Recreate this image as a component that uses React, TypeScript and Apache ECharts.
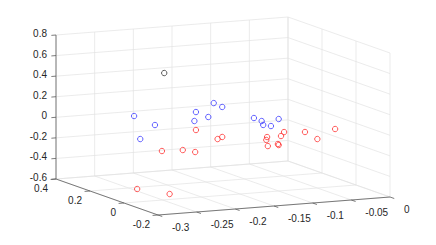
import React, { useEffect, useRef } from "react";
import * as echarts from "echarts";

// Axis limits and ticks
const xLim = [-0.3, 0];
const yLim = [-0.2, 0.4];
const zLim = [-0.6, 0.8];
const xTicks = [-0.3, -0.25, -0.2, -0.15, -0.1, -0.05, 0];
const yTicks = [-0.2, 0, 0.2, 0.4];
const zTicks = [-0.6, -0.4, -0.2, 0, 0.2, 0.4, 0.6, 0.8];

// Data (x, y, z) per group
const redX = [-0.163, -0.218, -0.213, -0.153, -0.157, -0.14, -0.105, -0.071, -0.114, -0.079, -0.067, -0.086, -0.093, -0.033, -0.05, -0.027, -0.261, -0.241];
const redY = [0.2, 0.15, 0.05, 0.25, 0.1, 0.15, 0.05, 0.2, 0.0, 0.1, 0.15, 0.05, 0.0, 0.15, 0.0, 0.0, 0.1, 0.0];
const redZ = [-0.087, -0.23, -0.165, -0.336, -0.12, -0.139, -0.13, -0.209, -0.155, -0.214, -0.26, -0.103, -0.031, -0.153, -0.124, -0.04, -0.545, -0.547];

const blueX = [-0.232, -0.227, -0.268, -0.185, -0.209, -0.151, -0.162, -0.202, -0.11, -0.122, -0.109, -0.121, -0.067];
const blueY = [0.25, 0.15, 0.05, 0.1, 0.0, 0.15, 0.05, -0.05, 0.1, 0.0, 0.05, -0.05, 0.15];
const blueZ = [0.06, 0.028, -0.026, 0.159, 0.144, 0.197, 0.224, 0.208, 0.057, 0.093, 0.018, 0.073, -0.007];

const blackX = [-0.226];
const blackY = [0.1];
const blackZ = [0.562];

// View (orthographic projection onto the page plane)
const ORIGIN = [56, 179]; // corner (xmin, ymax, zmin)
const BOX_X = [232, -18]; // full x range
const BOX_Y = [102, 36]; // from ymax to ymin
const BOX_Z = [0, -144]; // full z range

function proj(x: number, y: number, z: number): number[] {
  const a = (x - xLim[0]) / (xLim[1] - xLim[0]);
  const b = (yLim[1] - y) / (yLim[1] - yLim[0]);
  const c = (z - zLim[0]) / (zLim[1] - zLim[0]);
  return [
    ORIGIN[0] + a * BOX_X[0] + b * BOX_Y[0] + c * BOX_Z[0],
    ORIGIN[1] + a * BOX_X[1] + b * BOX_Y[1] + c * BOX_Z[1],
  ];
}

const GRID = "#e2e2e2";
const AXIS = "#5a5a5a";
const TEXT = "#262626";
const FONT = '10px "Liberation Sans", Arial, Helvetica, sans-serif';

function buildSegments() {
  const [x0, x1] = xLim;
  const [y0, y1] = yLim;
  const [z0, z1] = zLim;
  const s: number[][] = [];
  // kind 0 grid, 1 axis
  zTicks.forEach((z) => s.push([x0, y1, z, x1, y1, z, 0]));
  xTicks.forEach((x) => s.push([x, y1, z0, x, y1, z1, 0]));
  zTicks.forEach((z) => s.push([x1, y1, z, x1, y0, z, 0]));
  yTicks.forEach((y) => s.push([x1, y, z0, x1, y, z1, 0]));
  yTicks.forEach((y) => s.push([x0, y, z0, x1, y, z0, 0]));
  xTicks.forEach((x) => s.push([x, y0, z0, x, y1, z0, 0]));
  // axes
  s.push([x0, y1, z0, x0, y1, z1, 1]);
  s.push([x0, y1, z0, x0, y0, z0, 1]);
  s.push([x0, y0, z0, x1, y0, z0, 1]);
  // tick marks
  xTicks.forEach((x) => s.push([x, y0, z0, x, y0 - 0.025, z0, 1]));
  yTicks.forEach((y) => s.push([x0, y, z0, x0 - 0.007, y, z0, 1]));
  zTicks.forEach((z) => s.push([x0, y1, z, x0 - 0.006, y1, z, 1]));
  return s;
}

function buildLabels() {
  const l: number[][] = [];
  xTicks.forEach((x) => l.push([x, yLim[0], zLim[0], x, 0]));
  yTicks.forEach((y) => l.push([xLim[0], y, zLim[0], y, 1]));
  zTicks.forEach((z) => l.push([xLim[0], yLim[1], z, z, 2]));
  return l;
}

function zip(xs: number[], ys: number[], zs: number[]) {
  return xs.map((x, i) => [x, ys[i], zs[i]]);
}

export default function App() {
  const ref = useRef<HTMLDivElement>(null);
  useEffect(() => {
    if (!ref.current) return;
    const chart = echarts.init(ref.current, undefined, { renderer: "svg" });

    const pointSeries = (name: string, data: number[][], color: string) => ({
      type: "custom",
      name,
      coordinateSystem: "cartesian2d",
      silent: true,
      z: 5,
      data,
      renderItem: (_p: any, api: any) => {
        const c = api.coord(proj(api.value(0), api.value(1), api.value(2)));
        return {
          type: "circle",
          shape: { cx: c[0], cy: c[1], r: 2.7 },
          style: { fill: "none", stroke: color, lineWidth: 0.8 },
        };
      },
    });

    chart.setOption({
      animation: false,
      grid: { left: 0, right: 0, top: 0, bottom: 0 },
      xAxis: { type: "value", min: 0, max: 436, show: false },
      yAxis: { type: "value", min: 0, max: 245, inverse: true, show: false },
      series: [
        {
          type: "custom",
          coordinateSystem: "cartesian2d",
          silent: true,
          z: 1,
          data: buildSegments(),
          renderItem: (_p: any, api: any) => {
            const a = api.coord(proj(api.value(0), api.value(1), api.value(2)));
            const b = api.coord(proj(api.value(3), api.value(4), api.value(5)));
            const axis = api.value(6) === 1;
            return {
              type: "line",
              z2: axis ? 2 : 1,
              shape: { x1: a[0], y1: a[1], x2: b[0], y2: b[1] },
              style: { stroke: axis ? AXIS : GRID, lineWidth: axis ? 0.8 : 0.7 },
            };
          },
        },
        {
          type: "custom",
          coordinateSystem: "cartesian2d",
          silent: true,
          z: 2,
          data: buildLabels(),
          renderItem: (_p: any, api: any) => {
            const c = api.coord(proj(api.value(0), api.value(1), api.value(2)));
            const kind = api.value(4);
            const v = api.value(3);
            let dx = 0, dy = 0, align = "right";
            if (kind === 0) { dx = 14; dy = 12; align = "left"; }
            else if (kind === 1) { dx = -8; dy = 9; align = "right"; }
            else { dx = -9; dy = -1.5; align = "right"; }
            return {
              type: "text",
              x: c[0] + dx,
              y: c[1] + dy,
              style: {
                text: String(Math.round(v * 100) / 100),
                fill: TEXT,
                font: FONT,
                align,
                verticalAlign: "middle",
              },
            };
          },
        },
        pointSeries("red", zip(redX, redY, redZ), "#ff3030"),
        pointSeries("blue", zip(blueX, blueY, blueZ), "#3a3aff"),
        pointSeries("black", zip(blackX, blackY, blackZ), "#333333"),
      ],
    });
    return () => chart.dispose();
  }, []);
  return (
    <div
      ref={ref}
      style={{ position: "absolute", left: 0, top: 0, width: 436, height: 245, background: "#fff" }}
    />
  );
}
